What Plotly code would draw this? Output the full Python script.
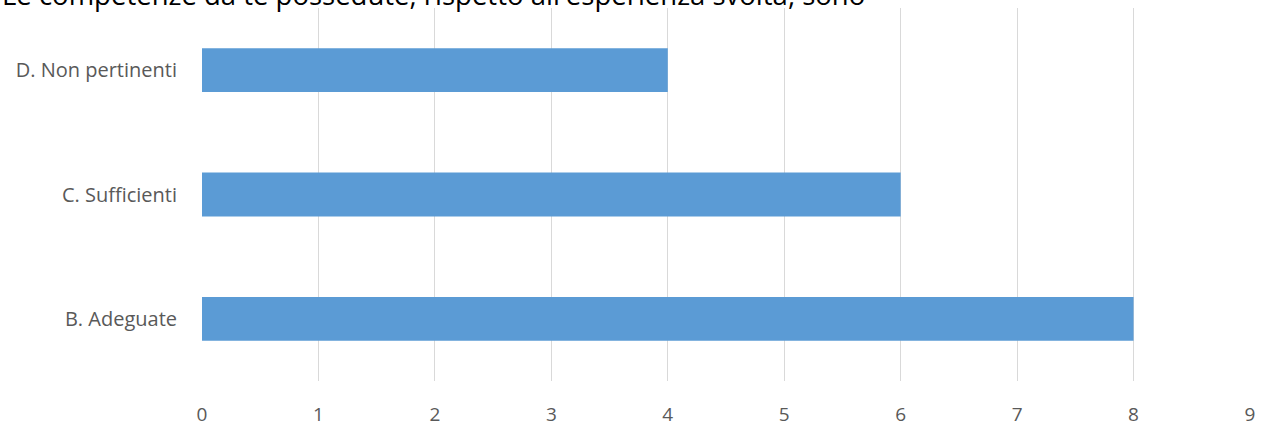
import plotly.graph_objects as go

categories = ["B. Adeguate", "C. Sufficienti", "D. Non pertinenti"]
values = [8, 6, 4]
x_ticks = list(range(0, 10))
title_text = "Le competenze da te possedute, rispetto all'esperienza svolta, sono"

fig = go.Figure(go.Bar(
    y=categories, x=values, orientation="h",
    marker=dict(color="#5b9bd5", line=dict(width=0)),
    hoverinfo="skip",
))

fig.update_layout(
    width=1269, height=426,
    margin=dict(l=202, r=19, t=8, b=45, autoexpand=False),
    paper_bgcolor="white", plot_bgcolor="white",
    bargap=0.647,
    showlegend=False,
    font=dict(family="Open Sans", color="#595959", size=20),
    annotations=[dict(
        text=title_text, xref="paper", yref="paper",
        x=-202/1048, y=1 + 13/373, xanchor="left", yanchor="middle",
        showarrow=False, font=dict(size=27.5, color="#000000", family="Open Sans"),
    )],
)
fig.update_xaxes(
    range=[0, 9], tickvals=x_ticks, showgrid=True, gridcolor="#d9d9d9", gridwidth=1,
    zeroline=False, showline=False, ticks="", ticklabelstandoff=20,
    tickfont=dict(size=19, color="#595959"),
)
fig.update_yaxes(
    showgrid=False, zeroline=False, showline=False, ticks="",
    ticklabelstandoff=24, tickfont=dict(size=20, color="#595959"),
)
fig.write_html("out.html", config={"displayModeBar": False},
               post_script="document.body.style.margin='0px';")
